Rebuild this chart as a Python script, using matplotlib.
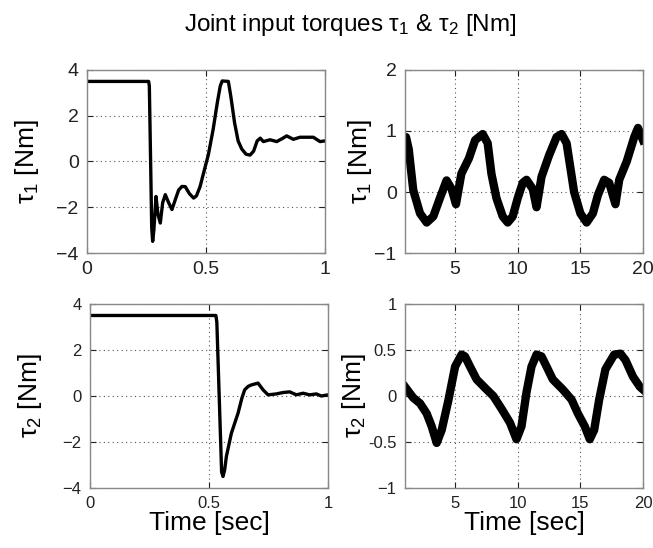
import numpy as np
import matplotlib
matplotlib.use('Agg')
import matplotlib.pyplot as plt

plt.rcParams['font.family'] = ['Liberation Sans', 'DejaVu Sans']
plt.rcParams['mathtext.default'] = 'regular'

# step response, tau1 (0..1 s)
t_s1 = [0.0, 0.259, 0.262, 0.272, 0.276, 0.281, 0.29, 0.298, 0.308, 0.318, 0.329,
        0.343, 0.357, 0.37, 0.385, 0.399, 0.413, 0.43, 0.448, 0.46, 0.475, 0.49,
        0.51, 0.53, 0.548, 0.56, 0.568, 0.594, 0.605, 0.62, 0.635, 0.65, 0.668,
        0.685, 0.70, 0.715, 0.728, 0.741, 0.769, 0.797, 0.82, 0.839, 0.867,
        0.895, 0.951, 0.979, 1.0]
tau1_s = [3.5, 3.5, 3.3, -2.9, -3.49, -3.0, -1.53, -2.3, -2.69, -1.8, -1.45,
          -1.8, -2.1, -1.7, -1.25, -1.09, -1.1, -1.4, -1.6, -1.5, -1.1, -0.5,
          0.3, 1.4, 2.6, 3.3, 3.52, 3.5, 2.8, 1.7, 0.9, 0.55, 0.32,
          0.28, 0.45, 0.9, 1.02, 0.87, 0.95, 0.87, 1.0, 1.12, 0.97,
          1.06, 1.06, 0.87, 0.9]

# step response, tau2 (0..1 s)
t_s2 = [0.0, 0.529, 0.533, 0.553, 0.559, 0.566, 0.573, 0.594, 0.622, 0.638, 0.65,
        0.665, 0.678, 0.706, 0.727, 0.748, 0.783, 0.811, 0.839, 0.867, 0.895,
        0.923, 0.951, 0.972, 1.0]
tau2_s = [3.5, 3.5, 3.2, -3.3, -3.5, -3.2, -2.63, -1.62, -0.75, -0.1, 0.27,
          0.42, 0.48, 0.56, 0.27, 0.05, 0.09, 0.15, 0.18, 0.05, 0.12,
          0.05, 0.09, 0.0, 0.05]

# tracking, tau1 (1..20 s)
t_l1 = [1.0, 1.08, 1.3, 1.66, 2.2, 2.73, 3.26, 3.79, 4.32, 4.72, 5.07, 5.5, 6.1,
        6.6, 7.2, 7.6, 7.9, 8.3, 8.8, 9.2, 9.6, 10.0, 10.4, 10.7, 11.2, 11.5, 11.9,
        12.5, 13.1, 13.5, 13.9, 14.2, 14.5, 15.0, 15.5, 16.0, 16.4, 16.9, 17.3, 17.8,
        18.1, 18.7, 19.3, 19.6, 20.0]
tau1_l = [0.85, 0.9, 0.7, 0.03, -0.35, -0.5, -0.4, -0.1, 0.19, 0.05, -0.2, 0.3, 0.55,
          0.85, 0.95, 0.8, 0.3, -0.1, -0.4, -0.5, -0.4, -0.1, 0.15, 0.2, 0.05, -0.25, 0.25,
          0.6, 0.9, 0.95, 0.8, 0.4, 0.0, -0.35, -0.5, -0.35, -0.05, 0.2, 0.15, -0.2,
          0.2, 0.5, 0.9, 1.05, 0.85]

# tracking, tau2 (1..20 s)
t_l2 = [1.0, 1.66, 2.2, 2.73, 3.13, 3.53, 3.93, 4.46, 5.0, 5.52, 5.79, 6.19, 6.72,
        7.52, 8.05, 8.71, 9.38, 9.9, 10.3, 10.7, 11.1, 11.5, 11.9, 12.3, 12.8, 13.6,
        14.3, 14.8, 15.35, 15.75, 16.1, 16.5, 17.0, 17.7, 18.2, 18.6, 19.2, 19.75, 20.0]
tau2_l = [0.1, -0.02, -0.08, -0.19, -0.33, -0.51, -0.37, -0.05, 0.32, 0.45, 0.43, 0.32, 0.18,
          0.07, 0.0, -0.14, -0.29, -0.47, -0.33, 0.04, 0.32, 0.45, 0.43, 0.32, 0.18, 0.07,
          -0.04, -0.19, -0.33, -0.47, -0.37, -0.04, 0.29, 0.45, 0.46, 0.39, 0.21, 0.1, 0.07]

fig = plt.figure(figsize=(6.53, 5.48), dpi=100)

def style(ax, fs):
    ax.grid(True, linestyle=(0, (1, 3)), color='#555555', linewidth=0.8)
    ax.tick_params(direction='in', length=4, labelsize=fs, colors='#222222',
                   top=True, right=True, pad=6)
    for s in ax.spines.values():
        s.set_color('#888888')
        s.set_linewidth(1.0)

ax1 = fig.add_axes([0.1332, 0.5383, 0.3645, 0.334])
ax1.plot(t_s1, tau1_s, color='black', lw=2.4, solid_joinstyle='round')
ax1.set_xlim(0, 1)
ax1.set_ylim(-4, 4)
ax1.set_xticks([0, 0.5, 1])
ax1.set_xticklabels(['0', '0.5', '1'])
ax1.set_yticks([-4, -2, 0, 2, 4])
ax1.set_ylabel(r'$\tau_1$ [Nm]', fontsize=19, labelpad=11)
style(ax1, 14)

ax2 = fig.add_axes([0.6202, 0.5383, 0.3645, 0.334])
ax2.plot(t_l1, tau1_l, color='black', lw=6, solid_joinstyle='round')
ax2.set_xlim(1, 20)
ax2.set_ylim(-1, 2)
ax2.set_xticks([5, 10, 15, 20])
ax2.set_yticks([-1, 0, 1, 2])
ax2.set_ylabel(r'$\tau_1$ [Nm]', fontsize=19, labelpad=0)
style(ax2, 14)

ax3 = fig.add_axes([0.1378, 0.1095, 0.3645, 0.3358])
ax3.plot(t_s2, tau2_s, color='black', lw=2.4, solid_joinstyle='round')
ax3.set_xlim(0, 1)
ax3.set_ylim(-4, 4)
ax3.set_xticks([0, 0.5, 1])
ax3.set_xticklabels(['0', '0.5', '1'])
ax3.set_yticks([-4, -2, 0, 2, 4])
ax3.set_ylabel(r'$\tau_2$ [Nm]', fontsize=19, labelpad=13)
ax3.set_xlabel('Time [sec]', fontsize=19, labelpad=0)
style(ax3, 12)

ax4 = fig.add_axes([0.6202, 0.1095, 0.3645, 0.3358])
ax4.plot(t_l2, tau2_l, color='black', lw=6, solid_joinstyle='round')
ax4.set_xlim(1, 20)
ax4.set_ylim(-1, 1)
ax4.set_xticks([5, 10, 15, 20])
ax4.set_yticks([-1, -0.5, 0, 0.5, 1])
ax4.set_yticklabels(['\u22121', '-0.5', '0', '0.5', '1'])
ax4.set_ylabel(r'$\tau_2$ [Nm]', fontsize=19, labelpad=0)
ax4.set_xlabel('Time [sec]', fontsize=19, labelpad=0)
style(ax4, 12)

fig.text(0.537, 0.955, r'Joint input torques $\tau_1$ & $\tau_2$ [Nm]',
         ha='center', va='center', fontsize=17.5)

fig.savefig('out.png', dpi=100)
